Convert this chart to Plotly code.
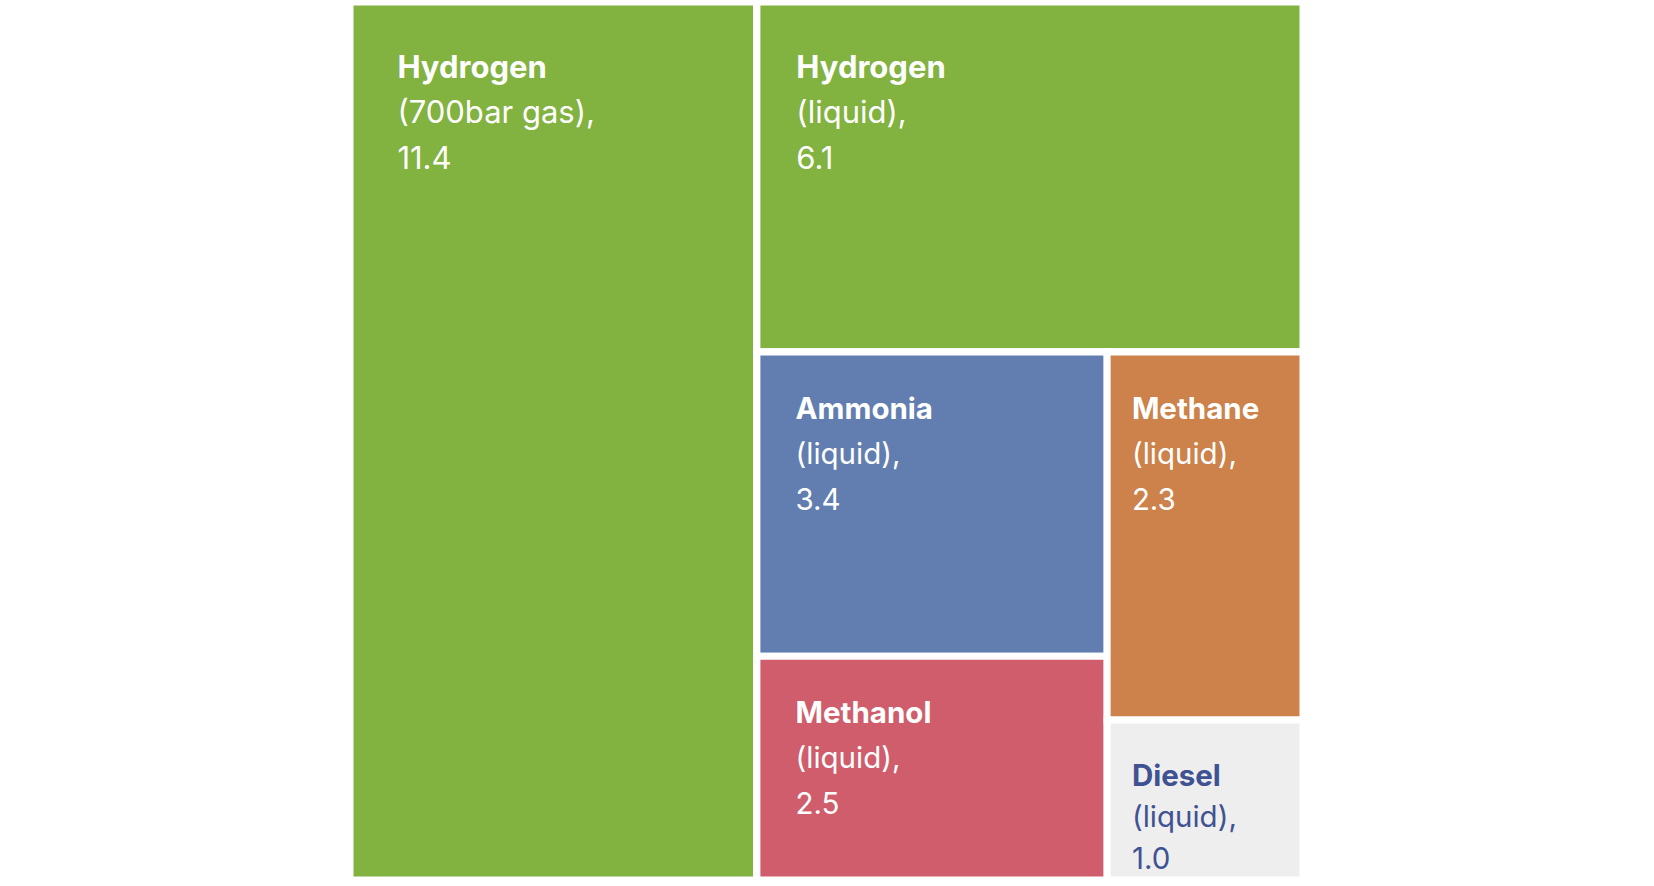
import plotly.graph_objects as go

# ---- data ----
fuels = ["Hydrogen", "Hydrogen", "Ammonia", "Methanol", "Methane", "Diesel"]
states = ["(700bar gas),", "(liquid),", "(liquid),", "(liquid),", "(liquid),", "(liquid),"]
volumes = [11.4, 6.1, 3.4, 2.5, 2.3, 1.0]

# ---- style ----
colors = ["#82B240", "#82B240", "#627EB0", "#CF5D6C", "#CC824A", "#EEEEEE"]
text_colors = ["#FFFFFF", "#FFFFFF", "#FFFFFF", "#FFFFFF", "#FFFFFF", "#3F5292"]
glyph_sizes = [31, 31, 29.5, 29.5, 29.5, 29.5]   # visible glyph size
line_sizes = [35, 35, 35, 35, 35, 32]            # sets line spacing (1.3em)
pad_px = [44, 36, 35, 35, 21, 21]                # left text inset
lead_sizes = [28, 28, 19, 19, 19, 22]            # top text inset
FONT = "Inter"
NBSP_EM = 0.285

# hierarchy used to reproduce the tiling: H2 gas | (H2 liquid / ((Ammonia/Methanol) | (Methane/Diesel)))
leaf_ids = ["h2gas", "h2liq", "ammonia", "methanol", "methane", "diesel"]
leaf_parents = ["", "rest", "colA", "colA", "colB", "colB"]
groups = [("rest", ""), ("rest2", "rest"), ("colA", "rest2"), ("colB", "rest2")]


def span(s, size):
    return "<span style='font-size:%.1fpx'>%s</span>" % (size, s)


ids, parents, vals, texts, mcolors, tcolors, fsizes = [], [], [], [], [], [], []
# order matters (sort=False)
order = [("leaf", 0), ("grp", 0), ("leaf", 1), ("grp", 1), ("grp", 2), ("grp", 3),
         ("leaf", 2), ("leaf", 3), ("leaf", 4), ("leaf", 5)]
for kind, i in order:
    if kind == "leaf":
        pad = span("\u00a0" * 6, (pad_px[i] + 1) / (6 * NBSP_EM))
        g = glyph_sizes[i]
        lines = [span("\u00a0", lead_sizes[i]),
                 pad + span("<b>" + fuels[i] + "</b>", g),
                 pad + span(states[i], g),
                 pad + span(f"{volumes[i]:.1f}", g)]
        ids.append(leaf_ids[i]); parents.append(leaf_parents[i]); vals.append(volumes[i])
        texts.append("<br>".join(lines)); mcolors.append(colors[i])
        tcolors.append(text_colors[i]); fsizes.append(line_sizes[i])
    else:
        gid, gp = groups[i]
        ids.append(gid); parents.append(gp); vals.append(0)
        texts.append(""); mcolors.append("#FFFFFF"); tcolors.append("#FFFFFF")
        fsizes.append(30)

fig = go.Figure(go.Treemap(
    ids=ids, parents=parents, values=vals, labels=ids,
    branchvalues="remainder",
    sort=False,
    text=texts,
    texttemplate="%{text}",
    textposition="top left",
    textfont=dict(family=FONT, color=tcolors, size=fsizes),
    marker=dict(colors=mcolors, line=dict(color="#FFFFFF", width=7),
                pad=dict(t=0, l=0, r=0, b=0)),
    tiling=dict(packing="slice-dice", pad=0),
    pathbar=dict(visible=False),
    hoverinfo="skip",
))
fig.update_layout(
    width=1654, height=886,
    margin=dict(l=350, r=351, t=2, b=6),
    paper_bgcolor="#FFFFFF",
    font=dict(family=FONT),
    showlegend=False,
)
fig.write_html("out.html", config={"displayModeBar": False},
               post_script="document.body.style.margin='0';")
